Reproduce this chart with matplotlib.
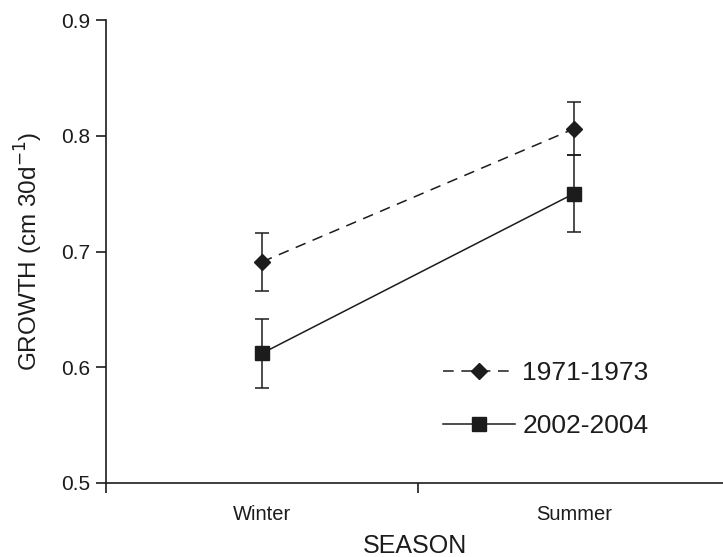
import matplotlib
matplotlib.use('Agg')
import matplotlib.pyplot as plt
import numpy as np

plt.rcParams['font.family'] = ['Liberation Sans', 'DejaVu Sans']

seasons = ['Winter', 'Summer']
labels = ['1971-1973', '2002-2004']
growth_old = [0.691, 0.806]
err_old = [0.025, 0.023]
growth_new = [0.612, 0.750]
err_new = [0.030, 0.033]

ink = '#1c1c1c'
x = np.arange(len(seasons)) + 0.5

fig = plt.figure(figsize=(7.23, 5.57), dpi=100)
ax = fig.add_axes([106 / 723, 74 / 557, 617 / 723, 463 / 557])

ax.errorbar(x, growth_old, yerr=err_old, color=ink, lw=1.1, dashes=(7, 5),
            marker='D', markersize=8.5, capsize=5, elinewidth=1.1, capthick=1.1,
            label=labels[0])
ax.errorbar(x, growth_new, yerr=err_new, color=ink, lw=1.1,
            marker='s', markersize=9.5, capsize=5, elinewidth=1.1, capthick=1.1,
            label=labels[1])

ax.set_xlim(0, 1.978)
ax.set_ylim(0.5, 0.9)
ax.set_yticks([0.5, 0.6, 0.7, 0.8, 0.9])
ax.set_yticklabels(['0.5', '0.6', '0.7', '0.8', '0.9'])
ax.set_xticks([0, 1])
ax.set_xticklabels([])
ax.set_xticks(x, minor=True)
ax.set_xticklabels(seasons, minor=True)
ax.tick_params(axis='x', which='minor', length=0, pad=16, labelsize=14.5, colors=ink)
ax.tick_params(axis='both', which='major', direction='out', length=7, width=1.2,
               colors=ink, labelsize=15)
ax.tick_params(axis='y', pad=4)

for s in ['top', 'right']:
    ax.spines[s].set_visible(False)
for s in ['left', 'bottom']:
    ax.spines[s].set_linewidth(1.2)
    ax.spines[s].set_color(ink)

ax.set_xlabel('SEASON', fontsize=18, color=ink, labelpad=7)
ax.set_ylabel('GROWTH (cm 30d$^{-1}$)', fontsize=17.5, color=ink, labelpad=12)

handles, labs = ax.get_legend_handles_labels()
handles = [h[0] for h in handles]
leg = ax.legend(handles, labs, loc='upper left', bbox_to_anchor=(0.524, 0.292),
                frameon=False, fontsize=19, handlelength=2.75, handletextpad=0.27,
                labelspacing=1.1, borderpad=0)
for t in leg.get_texts():
    t.set_color(ink)

fig.savefig('out.png', dpi=100)
